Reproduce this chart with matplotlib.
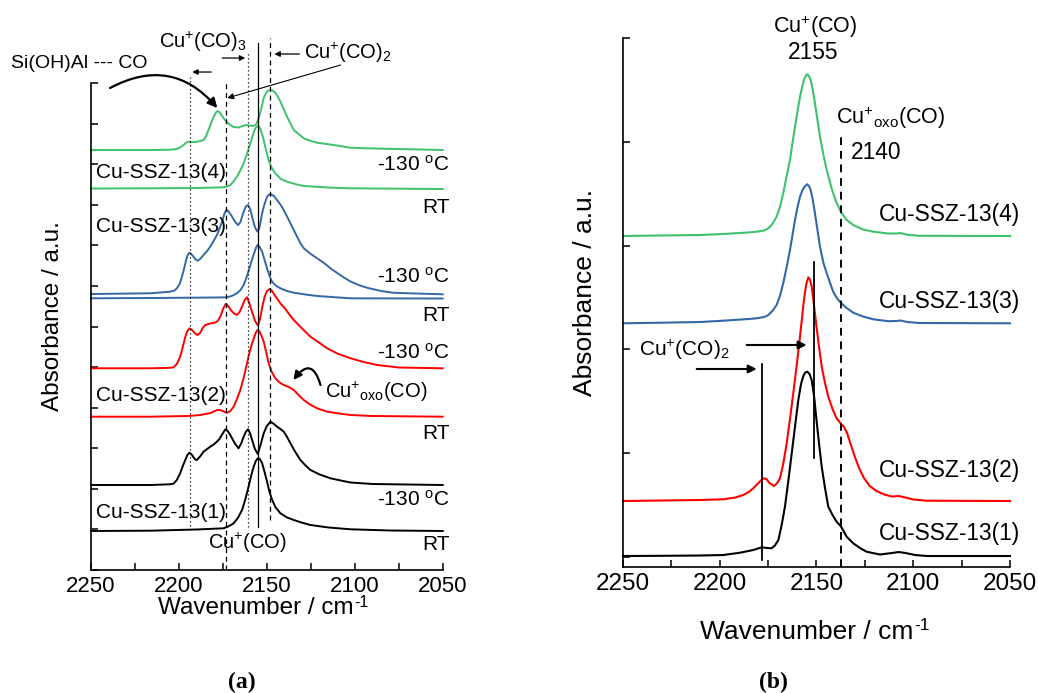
import matplotlib
matplotlib.use('Agg')
import matplotlib.pyplot as plt

plt.rcParams['font.family'] = ['Liberation Sans', 'DejaVu Sans']
plt.rcParams['mathtext.fontset'] = 'custom'
plt.rcParams['mathtext.rm'] = 'Liberation Sans'
plt.rcParams['mathtext.it'] = 'Liberation Sans:italic'
plt.rcParams['mathtext.bf'] = 'Liberation Sans:bold'

# ---------------- Panel (a) data: wavenumber (cm-1) / absorbance (a.u., stacked) ----------------
a4_cold_wn = [2250, 2216.4, 2205, 2201.2, 2199, 2197.4, 2195.8, 2194.6, 2193, 2190.7, 2188, 2186.0, 2184.5,
              2183.2, 2181.7, 2180.3, 2179, 2178.0, 2177, 2175.5, 2174, 2172.7, 2170.8, 2168.9, 2166.1, 2164,
              2161.7, 2159.8, 2158.4, 2157, 2156.0, 2154.8, 2153.7, 2152.7, 2151.8, 2150.8, 2149.9, 2148.9,
              2148.0, 2146.8, 2145.2, 2143.7, 2142.3, 2140.4, 2138.5, 2136.6, 2134.7, 2132, 2129.0, 2125,
              2121.4, 2111.9, 2102.4, 2092.9, 2050]
a4_cold_abs = [4.20, 4.20, 4.203, 4.21, 4.23, 4.25, 4.275, 4.283, 4.28, 4.28, 4.29, 4.30, 4.34,
               4.40, 4.47, 4.53, 4.575, 4.59, 4.58, 4.54, 4.505, 4.48, 4.45, 4.43, 4.425, 4.44,
               4.45, 4.445, 4.44, 4.445, 4.46, 4.51, 4.58, 4.65, 4.72, 4.76, 4.783, 4.797,
               4.80, 4.795, 4.773, 4.73, 4.683, 4.61, 4.533, 4.465, 4.40, 4.36, 4.317, 4.29,
               4.273, 4.25, 4.223, 4.217, 4.20]
a4_rt_wn = [2250, 2216, 2190, 2174.6, 2172.7, 2170.8, 2169, 2167.0, 2165, 2163.2, 2161.3, 2159.4, 2158,
            2156.6, 2155.6, 2154.7, 2153.7, 2152.7, 2151.8, 2150.5, 2149.0, 2147.5, 2145.2, 2142, 2138.5,
            2134, 2129.0, 2115, 2102.4, 2050]
a4_rt_abs = [3.815, 3.817, 3.82, 3.827, 3.835, 3.85, 3.885, 3.933, 4.00, 4.067, 4.16, 4.267, 4.35,
             4.417, 4.435, 4.44, 4.41, 4.36, 4.30, 4.20, 4.10, 4.03, 3.967, 3.91, 3.883,
             3.86, 3.84, 3.825, 3.817, 3.81]

a3_cold_wn = [2250, 2216.4, 2205.0, 2202.5, 2201.2, 2199.6, 2198.3, 2197, 2195.9, 2195, 2194.0, 2193, 2191.7,
              2190.5, 2189.4, 2188, 2186.0, 2184, 2182.2, 2180.3, 2178.4, 2177, 2175.5, 2174.2, 2173.1, 2172,
              2170.8, 2169.8, 2168, 2166.4, 2165, 2164, 2163.2, 2162, 2160.7, 2159.5, 2158.4, 2157, 2156,
              2155.2, 2154.3, 2153.5, 2152.7, 2151.5, 2149.9, 2148.7, 2147.6, 2146, 2144.2, 2142.3, 2140.4,
              2138.5, 2136.6, 2134.7, 2132.8, 2131, 2129.0, 2125, 2121.4, 2117.5, 2113.8, 2110, 2106.2,
              2102.4, 2097.5, 2092.9, 2085, 2077.8, 2050]
a3_cold_abs = [2.76, 2.767, 2.783, 2.795, 2.817, 2.86, 2.933, 3.02, 3.10, 3.15, 3.173, 3.16, 3.133,
               3.105, 3.093, 3.11, 3.15, 3.19, 3.233, 3.29, 3.35, 3.41, 3.483, 3.56, 3.60, 3.59,
               3.56, 3.533, 3.48, 3.45, 3.48, 3.54, 3.583, 3.635, 3.65, 3.61, 3.533, 3.44, 3.40,
               3.383, 3.42, 3.49, 3.567, 3.65, 3.733, 3.755, 3.757, 3.74, 3.70, 3.655, 3.60,
               3.535, 3.467, 3.40, 3.333, 3.27, 3.217, 3.16, 3.117, 3.07, 3.017, 2.97, 2.925,
               2.885, 2.848, 2.822, 2.79, 2.772, 2.757]
a3_rt_wn = [2250, 2216, 2180, 2172.7, 2170, 2167.0, 2165, 2163.2, 2161.3, 2159.4, 2158, 2156.6, 2155.9,
            2155.2, 2154.3, 2153.5, 2152.7, 2151.3, 2149.9, 2148.5, 2147.0, 2145, 2142.3, 2138.5, 2134.7,
            2128, 2121.4, 2102.4, 2050]
a3_rt_abs = [2.717, 2.72, 2.725, 2.727, 2.74, 2.767, 2.80, 2.85, 2.94, 3.05, 3.13, 3.20, 3.235,
             3.25, 3.235, 3.21, 3.183, 3.10, 3.017, 2.94, 2.883, 2.845, 2.817, 2.79, 2.773,
             2.755, 2.74, 2.717, 2.715]

a2_cold_wn = [2250, 2216.4, 2205, 2203.1, 2201.2, 2199.3, 2197.8, 2196.4, 2195.2, 2194.0, 2192.8, 2191.7,
              2190.5, 2189.4, 2188, 2186.5, 2185.0, 2182.5, 2180.3, 2178.4, 2177.2, 2176.1, 2174.7, 2173.4,
              2172, 2170.5, 2169, 2167.0, 2165.5, 2164.0, 2162.6, 2161.3, 2160, 2158.4, 2156.7, 2155.0,
              2153.8, 2152.5, 2151.3, 2150.0, 2148.4, 2147, 2145.5, 2144, 2142.3, 2140.5, 2139, 2137,
              2134.7, 2130, 2125.2, 2120, 2115.7, 2110, 2102.4, 2095, 2087.2, 2075, 2050]
a2_cold_abs = [2.017, 2.017, 2.022, 2.027, 2.06, 2.133, 2.23, 2.333, 2.39, 2.417, 2.405, 2.383,
               2.36, 2.35, 2.37, 2.42, 2.45, 2.465, 2.47, 2.483, 2.51, 2.55, 2.62, 2.66,
               2.64, 2.60, 2.57, 2.55, 2.58, 2.64, 2.70, 2.727, 2.67, 2.58, 2.49, 2.443,
               2.52, 2.64, 2.73, 2.79, 2.81, 2.79, 2.745, 2.71, 2.667, 2.63, 2.60, 2.55,
               2.50, 2.415, 2.333, 2.27, 2.217, 2.165, 2.117, 2.08, 2.05, 2.025, 2.017]
a2_rt_wn = [2250, 2216.4, 2195, 2187.9, 2182, 2179.5, 2178.4, 2177, 2175.5, 2174, 2172.7, 2171, 2168.9,
            2167, 2165.1, 2163.2, 2161.3, 2159.8, 2158.4, 2157, 2156, 2155.2, 2154.2, 2153, 2151.8,
            2150.4, 2149.0, 2147.2, 2145.2, 2142.8, 2140.4, 2137.5, 2134.7, 2132, 2129.0, 2125, 2121.4,
            2116, 2110.0, 2102.4, 2090, 2050]
a2_rt_abs = [1.533, 1.533, 1.54, 1.55, 1.57, 1.59, 1.60, 1.60, 1.593, 1.58, 1.573, 1.585, 1.633,
             1.71, 1.80, 1.92, 2.067, 2.18, 2.267, 2.34, 2.385, 2.40, 2.385, 2.34, 2.283,
             2.18, 2.067, 1.98, 1.917, 1.875, 1.85, 1.83, 1.80, 1.75, 1.70, 1.65, 1.617,
             1.585, 1.567, 1.55, 1.54, 1.533]

a1_cold_wn = [2250, 2216.4, 2205, 2203.1, 2201.2, 2199.3, 2197.8, 2196.4, 2195.2, 2194.0, 2192.8, 2191.7,
              2190.7, 2189.8, 2188, 2186.0, 2184, 2182.2, 2180.3, 2178.4, 2177, 2175.3, 2173.6, 2172.3,
              2171, 2169.8, 2168, 2166.1, 2164.5, 2163.2, 2162, 2160.7, 2159.6, 2158.4, 2156.8, 2155.2,
              2153.6, 2151.8, 2150, 2148.0, 2146, 2144.2, 2142.3, 2140.4, 2138.5, 2136.6, 2134, 2130.9,
              2128, 2125.2, 2120, 2113.8, 2108, 2102.4, 2090, 2050]
a1_cold_abs = [0.85, 0.85, 0.857, 0.863, 0.90, 0.967, 1.04, 1.10, 1.15, 1.173, 1.155, 1.127,
               1.105, 1.10, 1.135, 1.183, 1.21, 1.233, 1.255, 1.283, 1.31, 1.36, 1.407, 1.39,
               1.355, 1.317, 1.26, 1.217, 1.27, 1.333, 1.38, 1.407, 1.37, 1.30, 1.21, 1.16,
               1.25, 1.367, 1.44, 1.483, 1.46, 1.433, 1.41, 1.383, 1.33, 1.267, 1.185, 1.10,
               1.045, 1.00, 0.955, 0.917, 0.895, 0.875, 0.86, 0.85]
a1_rt_wn = [2250, 2216.4, 2190, 2174.6, 2172, 2170.5, 2168.9, 2166.5, 2164.1, 2162.2, 2160.4, 2159, 2157.5,
            2156.3, 2155.2, 2154, 2152.7, 2151.3, 2149.9, 2148.5, 2147.0, 2145, 2142.3, 2138.5, 2134.7,
            2130, 2125.2, 2115, 2102.4, 2080, 2050]
a1_rt_abs = [0.39, 0.393, 0.405, 0.417, 0.435, 0.45, 0.467, 0.52, 0.60, 0.71, 0.833, 0.94, 1.033,
             1.09, 1.117, 1.11, 1.067, 0.98, 0.883, 0.78, 0.70, 0.625, 0.567, 0.525, 0.50,
             0.473, 0.45, 0.425, 0.407, 0.395, 0.39]

a_samples = ['Cu-SSZ-13(1)', 'Cu-SSZ-13(2)', 'Cu-SSZ-13(3)', 'Cu-SSZ-13(4)']
a_ref_lines = [2194, 2173, 2161, 2155, 2148]

# ---------------- Panel (b) data ----------------
b4_wn = [2250, 2230, 2210, 2198.2, 2185, 2180.9, 2177, 2174.9, 2172.8, 2170.6, 2168.9, 2167.2, 2165.5,
         2163.7, 2162.4, 2161.1, 2159.8, 2158.5, 2157.4, 2156.5, 2155.6, 2154.8, 2153.9, 2153.0, 2151.9,
         2150.8, 2149.5, 2148.2, 2146.4, 2144.7, 2142.1, 2139.8, 2137.5, 2134.4, 2131.0, 2126, 2120.6,
         2113, 2108.5, 2106.8, 2103, 2097, 2050]
b4_abs = [3.31, 3.315, 3.32, 3.33, 3.345, 3.353, 3.365, 3.387, 3.43, 3.503, 3.60, 3.737, 3.90,
          4.07, 4.24, 4.403, 4.56, 4.703, 4.80, 4.87, 4.91, 4.927, 4.91, 4.87, 4.77,
          4.637, 4.47, 4.303, 4.12, 3.97, 3.78, 3.65, 3.553, 3.47, 3.42, 3.375, 3.353,
          3.335, 3.335, 3.34, 3.322, 3.312, 3.31]
b3_wn = [2250, 2230, 2210, 2198.2, 2185, 2180.9, 2177, 2174.9, 2172.8, 2170.6, 2168.9, 2167.2, 2165.5,
         2163.7, 2162.4, 2161.1, 2159.8, 2158.5, 2157.4, 2156.3, 2154.8, 2153.9, 2153.0, 2151.9, 2150.8,
         2149.5, 2148.2, 2146.4, 2144.7, 2142.8, 2141.3, 2139.5, 2137.5, 2134.4, 2131.0, 2126, 2120.6,
         2113, 2108.5, 2106.8, 2103, 2097, 2050]
b3_abs = [2.437, 2.443, 2.45, 2.463, 2.48, 2.487, 2.50, 2.52, 2.56, 2.62, 2.71, 2.837, 2.99,
          3.17, 3.32, 3.47, 3.60, 3.703, 3.76, 3.80, 3.827, 3.81, 3.77, 3.67, 3.537,
          3.37, 3.203, 3.04, 2.937, 2.83, 2.75, 2.69, 2.643, 2.59, 2.543, 2.505, 2.477,
          2.458, 2.46, 2.465, 2.45, 2.44, 2.437]
b2_wn = [2250, 2230, 2210, 2198.2, 2192, 2187.8, 2185, 2182.7, 2179.5, 2177.5, 2175.9, 2174.3, 2172.0,
         2170.3, 2168.9, 2167.2, 2165.4, 2163.7, 2162.0, 2160.4, 2158.9, 2157.6, 2156.5, 2155.3, 2154.2,
         2153.3, 2152.5, 2151.3, 2150.0, 2148.6, 2147.3, 2145.6, 2143.9, 2141.7, 2139.6, 2137.5, 2135.8,
         2134.2, 2132.7, 2130.5, 2128, 2125.5, 2122.5, 2119, 2115, 2111, 2107.5, 2104, 2100, 2093, 2050]
b2_abs = [0.66, 0.665, 0.67, 0.677, 0.695, 0.72, 0.75, 0.787, 0.85, 0.887, 0.88, 0.84, 0.81,
          0.84, 0.887, 1.03, 1.237, 1.48, 1.737, 1.99, 2.237, 2.47, 2.67, 2.83, 2.897,
          2.87, 2.803, 2.62, 2.403, 2.19, 2.003, 1.84, 1.703, 1.58, 1.487, 1.437, 1.40,
          1.34, 1.25, 1.12, 0.99, 0.89, 0.81, 0.76, 0.725, 0.705, 0.71, 0.695, 0.675, 0.663, 0.66]
b1_wn = [2250, 2230, 2210, 2198.2, 2189.5, 2182.7, 2178.3, 2175.5, 2173.2, 2171.5, 2169.7, 2168, 2166.3,
         2164.5, 2162.8, 2161, 2159.4, 2158, 2156.8, 2155.8, 2154.8, 2153.6, 2152.5, 2151.2, 2150.0,
         2148.6, 2147.3, 2145.6, 2143.9, 2141.7, 2139.6, 2137.5, 2136, 2134.4, 2131.0, 2127.5, 2124.1,
         2117.2, 2111, 2107.5, 2104, 2099, 2093, 2050]
b1_abs = [0.11, 0.112, 0.115, 0.12, 0.143, 0.17, 0.197, 0.19, 0.187, 0.215, 0.27, 0.42, 0.603,
          0.87, 1.137, 1.42, 1.67, 1.83, 1.91, 1.945, 1.953, 1.93, 1.87, 1.70, 1.47,
          1.22, 1.003, 0.79, 0.603, 0.52, 0.453, 0.41, 0.36, 0.303, 0.237, 0.19, 0.153,
          0.125, 0.14, 0.15, 0.14, 0.12, 0.11, 0.11]

GREEN = '#3ec26b'
BLUE = '#3369a6'
RED = '#ff0000'
BLACK = '#000000'

fig = plt.figure(figsize=(10.38, 6.93), dpi=100)

def style_axes(ax, tick_fs, ylim, yticks):
    ax.set_xlim(2250, 2050)
    ax.set_ylim(*ylim)
    for s in ['top', 'right']:
        ax.spines[s].set_visible(False)
    for s in ['left', 'bottom']:
        ax.spines[s].set_linewidth(1.2)
    ax.set_xticks([2250, 2200, 2150, 2100, 2050])
    ax.set_xticks([2225, 2175, 2125, 2075], minor=True)
    ax.set_yticks(yticks)
    ax.tick_params(axis='both', which='both', direction='in', length=5, width=1.1,
                   top=False, right=False, labelsize=tick_fs, pad=4)
    ax.tick_params(axis='y', labelleft=False)

def arrow(ax, start, end, lw=1.0, ms=10, rad=0.0):
    ax.annotate('', xy=end, xytext=start, annotation_clip=False,
                arrowprops=dict(arrowstyle='-|>', color='k', lw=lw, mutation_scale=ms,
                                shrinkA=0, shrinkB=0,
                                connectionstyle='arc3,rad=%g' % rad))

# ---------------- Panel (a) ----------------
ax = fig.add_axes([0.0877, 0.1775, 0.3388, 0.7027])
ya_top = 4.87
style_axes(ax, 16, (0, ya_top), [ya_top * k / 12 for k in range(13)])

lw_a = 1.4
for wn, ab, c in [(a4_cold_wn, a4_cold_abs, GREEN), (a4_rt_wn, a4_rt_abs, GREEN),
                  (a3_cold_wn, a3_cold_abs, BLUE), (a3_rt_wn, a3_rt_abs, BLUE),
                  (a2_cold_wn, a2_cold_abs, RED), (a2_rt_wn, a2_rt_abs, RED),
                  (a1_cold_wn, a1_cold_abs, BLACK), (a1_rt_wn, a1_rt_abs, BLACK)]:
    ax.plot(wn, ab, color=c, lw=lw_a, solid_joinstyle='round', clip_on=False)

ax.plot([a_ref_lines[0]] * 2, [0.40, 4.93], ls=(0, (1, 2.2)), color='k', lw=0.9, clip_on=False)
ax.plot([a_ref_lines[1]] * 2, [0.0, 4.87], ls=(0, (4, 3)), color='k', lw=0.9, clip_on=False)
ax.plot([a_ref_lines[2]] * 2, [0.43, 5.17], ls=(0, (1, 2.2)), color='k', lw=0.9, clip_on=False)
ax.plot([a_ref_lines[3]] * 2, [0.43, 5.27], ls='-', color='k', lw=0.9, clip_on=False)
ax.plot([a_ref_lines[4]] * 2, [0.50, 5.32], ls=(0, (4, 3)), color='k', lw=0.9, clip_on=False)

fs_a = 15
for name, y in zip(a_samples, [0.57, 1.75, 3.44, 3.98]):
    ax.text(2247.2, y, name, fontsize=fs_a, ha='left', va='center')
cold = r'-130 $^{\mathrm{o}}$C'
for txt, y in [(cold, 4.05), ('RT', 3.63), (cold, 2.93), ('RT', 2.55),
               (cold, 2.17), ('RT', 1.37), (cold, 0.70), ('RT', 0.25)]:
    ax.text(2046, y, txt, fontsize=fs_a, ha='right', va='center', clip_on=False)

ax.text(2256.8, 5.07, 'Si(OH)Al --- CO', fontsize=14, ha='center', va='center')
ax.text(2186.2, 5.28, r'Cu$^{+}$(CO)$_{3}$', fontsize=14.5, ha='center', va='center')
ax.text(2103.8, 5.17, r'Cu$^{+}$(CO)$_{2}$', fontsize=14.5, ha='center', va='center')
ax.text(2160.8, 0.27, r'Cu$^{+}$(CO)', fontsize=14.5, ha='center', va='center')
ax.text(2117.2, 1.78, r'Cu$^{+}$$_{\mathrm{oxo}}$(CO)', fontsize=14.5, ha='left', va='center')

arrow(ax, (2181.6, 4.98), (2192.4, 4.98), lw=0.9, ms=8)
arrow(ax, (2175.4, 5.12), (2162.3, 5.12), lw=0.9, ms=8)
arrow(ax, (2131.5, 5.16), (2145.7, 5.16), lw=0.9, ms=8)
arrow(ax, (2108.1, 5.05), (2172.5, 4.72), lw=0.8, ms=9)
arrow(ax, (2239.2, 4.82), (2178.2, 4.62), lw=1.6, ms=14, rad=-0.4)
arrow(ax, (2119.5, 1.85), (2134.9, 1.90), lw=1.6, ms=12, rad=1.0)

# ---------------- Panel (b) ----------------
bx = fig.add_axes([0.6002, 0.1818, 0.3728, 0.7634])
yb_top = 5.29
style_axes(bx, 17.5, (0, yb_top), [0.10 + k * (yb_top - 0.10) / 5 for k in range(6)])

lw_b = 1.5
for wn, ab, c in [(b4_wn, b4_abs, GREEN), (b3_wn, b3_abs, BLUE),
                  (b2_wn, b2_abs, RED), (b1_wn, b1_abs, BLACK)]:
    bx.plot(wn, ab, color=c, lw=lw_b, solid_joinstyle='round', clip_on=False)

bx.plot([2137.5] * 2, [0.0, 4.30], ls=(0, (4, 3)), color='k', lw=1.4)
bx.plot([2151.3] * 2, [1.095, 3.05], ls='-', color='k', lw=1.3)
bx.plot([2178.0] * 2, [0.07, 2.025], ls='-', color='k', lw=1.3)

fs_b = 16.4
for name, y in zip(a_samples, [0.34, 0.97, 2.65, 3.52]):
    bx.text(2044.8, y, name, fontsize=fs_b, ha='right', va='center', clip_on=False)
bx.text(2150.8, 5.40, r'Cu$^{+}$(CO)', fontsize=15.5, ha='center', va='center', clip_on=False)
bx.text(2151.8, 5.14, '2155', fontsize=16.4, ha='center', va='center')
bx.text(2139.9, 4.49, r'Cu$^{+}$$_{\mathrm{oxo}}$(CO)', fontsize=15.5, ha='left', va='center')
bx.text(2132.3, 4.14, '2140', fontsize=16.4, ha='left', va='center')
bx.text(2241.7, 2.17, r'Cu$^{+}$(CO)$_{2}$', fontsize=15, ha='left', va='center')
arrow(bx, (2186.1, 2.22), (2155.1, 2.22), lw=1.5, ms=12)
arrow(bx, (2211.9, 1.98), (2180.9, 1.98), lw=1.5, ms=12)

# ---------------- axis labels & panel tags ----------------
for (xc, yc, fs) in [(0.246, 0.122, 17.5), (0.777, 0.088, 19)]:
    t = fig.text(xc, yc, 'Wavenumber / cm', fontsize=fs, ha='center', va='center')
    ann = matplotlib.text.Annotation('-1', xy=(1.0, 1.0), xycoords=t, xytext=(0.8, 1.5),
                                     textcoords='offset points', fontsize=fs * 0.66,
                                     ha='left', va='top')
    fig.add_artist(ann)
fig.text(0.0511, 0.544, 'Absorbance / a.u.', fontsize=17.5, rotation=90, ha='center', va='center')
fig.text(0.5636, 0.5786, 'Absorbance / a.u.', fontsize=19, rotation=90, ha='center', va='center')
fig.text(0.233, 0.0155, '(a)', fontsize=17, ha='center', va='center',
         family='Liberation Serif', weight='bold')
fig.text(0.745, 0.0155, '(b)', fontsize=17, ha='center', va='center',
         family='Liberation Serif', weight='bold')

fig.savefig('out.png', dpi=100)
